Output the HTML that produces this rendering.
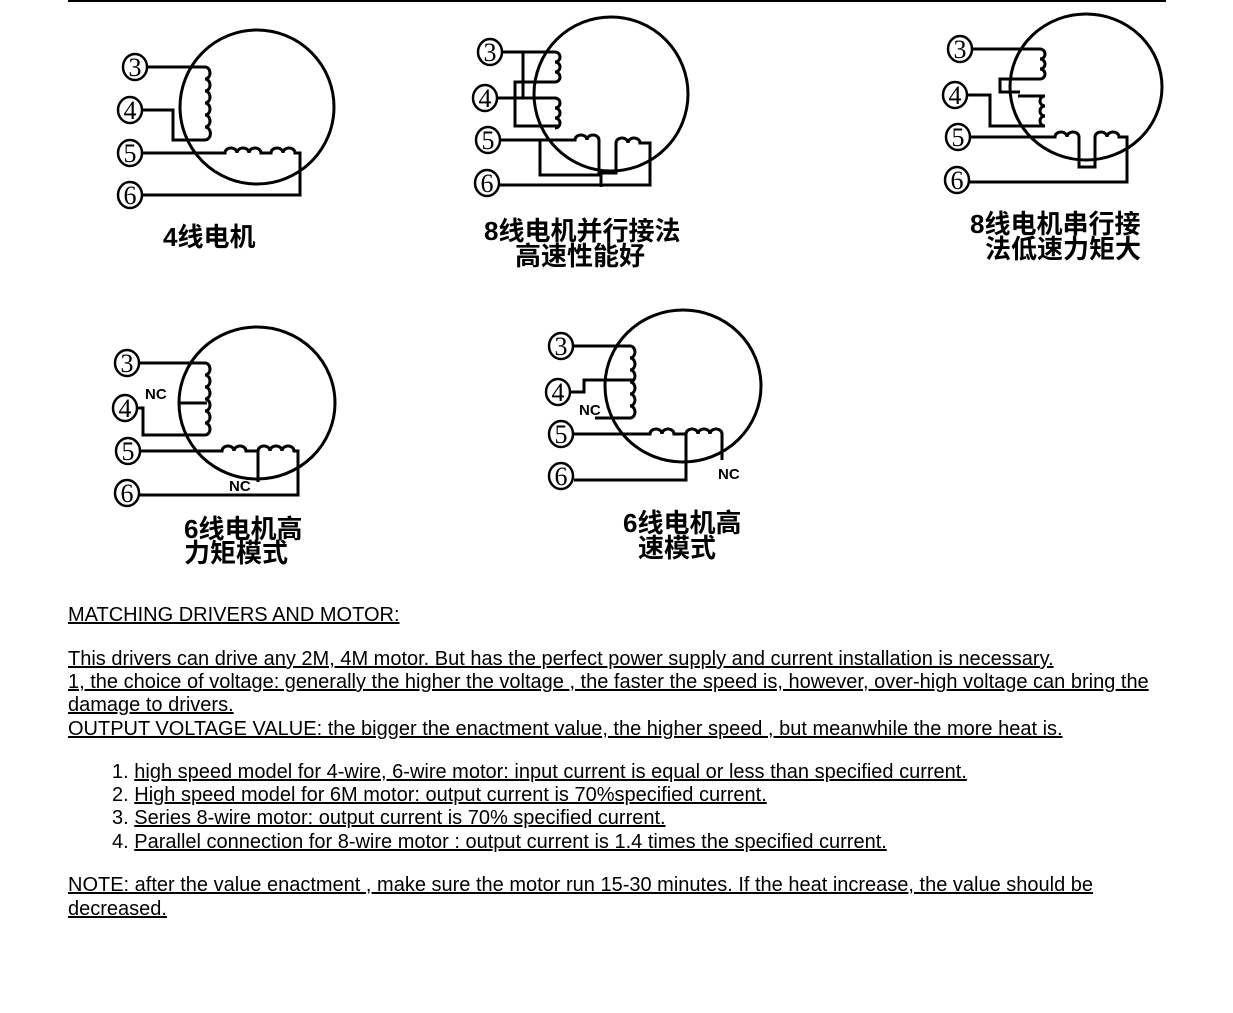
<!DOCTYPE html>
<html><head><meta charset="utf-8"><style>
body{margin:0;width:1233px;height:1013px;background:#fff;position:relative;overflow:hidden;font-family:"Liberation Sans",Arial,sans-serif;}
.t{position:absolute;left:68px;font-size:20px;line-height:23.4px;color:#000;text-decoration:underline;white-space:nowrap;}
.cn{font-family:"Liberation Sans","Noto Sans CJK SC",sans-serif;font-weight:bold;font-size:26px;position:absolute;line-height:25px;white-space:nowrap;}
</style></head><body>
<div style="position:absolute;left:68px;top:0;width:1098px;height:2px;background:#000"></div>
<svg width="1233" height="600" style="position:absolute;left:0;top:0" fill="none" stroke="#000" stroke-width="3">
<g font-family="Liberation Serif,serif" font-size="26" fill="#000" stroke="none" text-anchor="middle">
<text x="135" y="76">3</text><text x="130" y="119">4</text><text x="130" y="162">5</text><text x="130" y="204">6</text>
<text x="490" y="61">3</text><text x="485" y="107">4</text><text x="488" y="149">5</text><text x="487" y="192">6</text>
<text x="960" y="58">3</text><text x="955" y="104">4</text><text x="958" y="146">5</text><text x="957" y="189">6</text>
<text x="127" y="372">3</text><text x="125" y="417">4</text><text x="128" y="460">5</text><text x="127" y="502">6</text>
<text x="561" y="355">3</text><text x="558" y="401">4</text><text x="561" y="443">5</text><text x="561" y="485">6</text>
</g>
<g stroke-width="2.5">
<ellipse cx="135" cy="67" rx="12" ry="13"/><ellipse cx="130" cy="110" rx="12" ry="13"/><ellipse cx="130" cy="153" rx="12" ry="13"/><ellipse cx="130" cy="195" rx="12" ry="13"/>
<ellipse cx="490" cy="52" rx="12" ry="13"/><ellipse cx="485" cy="98" rx="12" ry="13"/><ellipse cx="488" cy="140" rx="12" ry="13"/><ellipse cx="487" cy="183" rx="12" ry="13"/>
<ellipse cx="960" cy="49" rx="12" ry="13"/><ellipse cx="955" cy="95" rx="12" ry="13"/><ellipse cx="958" cy="137" rx="12" ry="13"/><ellipse cx="957" cy="180" rx="12" ry="13"/>
<ellipse cx="127" cy="363" rx="12" ry="13"/><ellipse cx="125" cy="408" rx="12" ry="13"/><ellipse cx="128" cy="451" rx="12" ry="13"/><ellipse cx="127" cy="493" rx="12" ry="13"/>
<ellipse cx="561" cy="346" rx="12" ry="13"/><ellipse cx="558" cy="392" rx="12" ry="13"/><ellipse cx="561" cy="434" rx="12" ry="13"/><ellipse cx="561" cy="476" rx="12" ry="13"/>
</g>
<ellipse cx="257" cy="107" rx="77" ry="77"/>
<path d="M148 67H205a5 6 0 0 1 0 12a5 6 0 0 1 0 12a5 6 0 0 1 0 12a5 6 0 0 1 0 12a5 6 0 0 1 0 12a5 6 0 0 1 0 13H173V110H143"/>
<path d="M143 153H225a6 5 0 0 1 12 0a6 5 0 0 1 12 0a6 5 0 0 1 12 0h10a6 5 0 0 1 12 0a6 5 0 0 1 12 0h5V195H143"/>
<ellipse cx="611" cy="94" rx="77" ry="77"/>
<path d="M503 52H555a5 5 0 0 1 0 10a5 5 0 0 1 0 10a5 5 0 0 1 0 10H515V126H560"/>
<path d="M498 98H555a5 5 0 0 1 0 10a5 5 0 0 1 0 10a5 5 0 0 1 0 10"/>
<path d="M523 52V98"/>
<path d="M501 140H575a6 5 0 0 1 12 0a6 5 0 0 1 12 0V173H616V143a6 5 0 0 1 12 0a6 5 0 0 1 12 0h10V185H500"/>
<path d="M540 140V175H601V187"/>
<ellipse cx="1086" cy="87" rx="76" ry="73"/>
<path d="M973 49H1040a5 5 0 0 1 0 10a5 5 0 0 1 0 10a5 5 0 0 1 0 10H1000V92H1020"/>
<path d="M968 95H990V126H1045a5 5 0 0 1 0-10a5 5 0 0 1 0-10a5 5 0 0 1 0-10H1018"/>
<path d="M971 137H1055a6 5 0 0 1 12 0a6 5 0 0 1 12 0V167H1095V137a6 5 0 0 1 12 0a6 5 0 0 1 12 0h8V182H970"/>
<ellipse cx="257" cy="403" rx="78" ry="76"/>
<path d="M140 363H205a5 6 0 0 1 0 12a5 6 0 0 1 0 12a5 6 0 0 1 0 12a5 6 0 0 1 0 12a5 6 0 0 1 0 12a5 6 0 0 1 0 12H143V408H137"/>
<path d="M178 403H207"/>
<path d="M141 451H222a6 5 0 0 1 12 0a6 5 0 0 1 12 0h12a6 5 0 0 1 12 0a6 5 0 0 1 12 0a6 5 0 0 1 12 0h4V495H140"/>
<path d="M258 451V482"/>
<ellipse cx="683" cy="386" rx="78" ry="76"/>
<path d="M574 346H630a5 6 0 0 1 0 12a5 6 0 0 1 0 12a5 6 0 0 1 0 12a5 6 0 0 1 0 12a5 6 0 0 1 0 12a5 6 0 0 1 0 12H595"/>
<path d="M571 392H584V380H634"/>
<path d="M574 434H650a6 5 0 0 1 12 0a6 5 0 0 1 12 0h12a6 5 0 0 1 12 0a6 5 0 0 1 12 0a6 5 0 0 1 12 0V460"/>
<path d="M686 434V480H574"/>
<g font-family="Liberation Sans,sans-serif" font-weight="bold" font-size="15" fill="#000" stroke="none">
<text x="145" y="399">NC</text><text x="229" y="491">NC</text><text x="579" y="415">NC</text><text x="718" y="479">NC</text>
</g>
</svg>
<div class="cn" style="left:163px;top:225px">4线电机</div>
<div class="cn" style="left:484px;top:219px">8线电机并行接法</div>
<div class="cn" style="left:515px;top:244px">高速性能好</div>
<div class="cn" style="left:970px;top:212px">8线电机串行接</div>
<div class="cn" style="left:985px;top:237px">法低速力矩大</div>
<div class="cn" style="left:184px;top:517px">6线电机高</div>
<div class="cn" style="left:184px;top:541px">力矩模式</div>
<div class="cn" style="left:623px;top:511px">6线电机高</div>
<div class="cn" style="left:638px;top:536px">速模式</div>
<div class="t" style="top:604px">MATCHING DRIVERS AND MOTOR:</div>
<div class="t" style="top:648px">This drivers can drive any 2M, 4M motor. But has the perfect power supply and current installation is necessary.</div>
<div class="t" style="top:671px">1, the choice of voltage: generally the higher the voltage , the faster the speed is, however, over-high voltage can bring the</div>
<div class="t" style="top:694px">damage to drivers.</div>
<div class="t" style="top:718px">OUTPUT VOLTAGE VALUE: the bigger the enactment value, the higher speed , but meanwhile the more heat is.</div>
<div class="t" style="top:761px;left:112px;text-decoration:none">1. <u>high speed model for 4-wire, 6-wire motor: input current is equal or less than specified current.</u></div>
<div class="t" style="top:784px;left:112px;text-decoration:none">2. <u>High speed model for 6M motor: output current is 70%specified current.</u></div>
<div class="t" style="top:807px;left:112px;text-decoration:none">3. <u>Series 8-wire motor: output current is 70% specified current.</u></div>
<div class="t" style="top:831px;left:112px;text-decoration:none">4. <u>Parallel connection for 8-wire motor : output current is 1.4 times the specified current.</u></div>
<div class="t" style="top:874px">NOTE: after the value enactment , make sure the motor run 15-30 minutes. If the heat increase, the value should be</div>
<div class="t" style="top:898px">decreased.</div>
</body></html>
